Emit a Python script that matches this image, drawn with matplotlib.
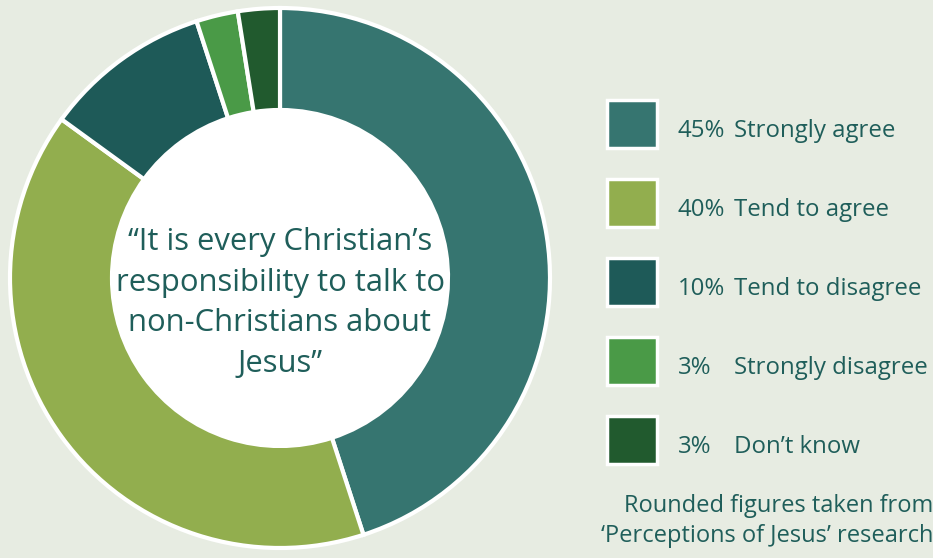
import matplotlib.pyplot as plt
from matplotlib.patches import Rectangle

labels = ['Strongly agree', 'Tend to agree', 'Tend to disagree', 'Strongly disagree', "Don\u2019t know"]
percent_labels = [45, 40, 10, 3, 3]          # rounded figures printed in the legend
shares = [45, 40, 10, 2.5, 2.5]              # slice sizes as drawn
colors = ['#367570', '#92ae4e', '#1e5a58', '#4a9a47', '#215a2e']
title = '\u201cIt is every Christian\u2019s\nresponsibility to talk to\nnon-Christians about\nJesus\u201d'
note = 'Rounded figures taken from\n\u2018Perceptions of Jesus\u2019 research'

bg = '#e7ece2'
txt = '#1f5e5a'
plt.rcParams['font.family'] = ['Open Sans', 'DejaVu Sans']

fig = plt.figure(figsize=(9.33, 5.58), dpi=100, facecolor=bg)
ax = fig.add_axes([0, 0, 1, 1])
ax.set_facecolor(bg)

# donut (y axis is flipped below, so angles run the other way)
ax.pie(shares, colors=colors, startangle=-90, counterclock=True,
       center=(280, 278), radius=270, frame=True,
       wedgeprops=dict(width=102, edgecolor='white', linewidth=3))
ax.set_xlim(0, 933)
ax.set_ylim(558, 0)
ax.set_aspect('equal')
ax.axis('off')
ax.add_patch(plt.Circle((280, 278), 168, color='white', zorder=3))
ax.text(280, 303, title, ha='center', va='center', fontsize=22.3,
        color=txt, linespacing=1.45, zorder=4)

# legend
for i, (lab, val, col) in enumerate(zip(labels, percent_labels, colors)):
    y = 124 + i * 79
    ax.add_patch(Rectangle((607, y - 24), 50, 48, facecolor=col,
                           edgecolor='white', linewidth=2.5, zorder=4))
    ax.text(678, y + 7, f'{val}%', fontsize=17.3, color=txt, va='center')
    ax.text(734, y + 7, lab, fontsize=17.3, color=txt, va='center')

ax.text(933, 521, note, fontsize=17, color=txt, ha='right', va='center',
        linespacing=1.3)

fig.savefig('out.png', dpi=100, facecolor=bg)
